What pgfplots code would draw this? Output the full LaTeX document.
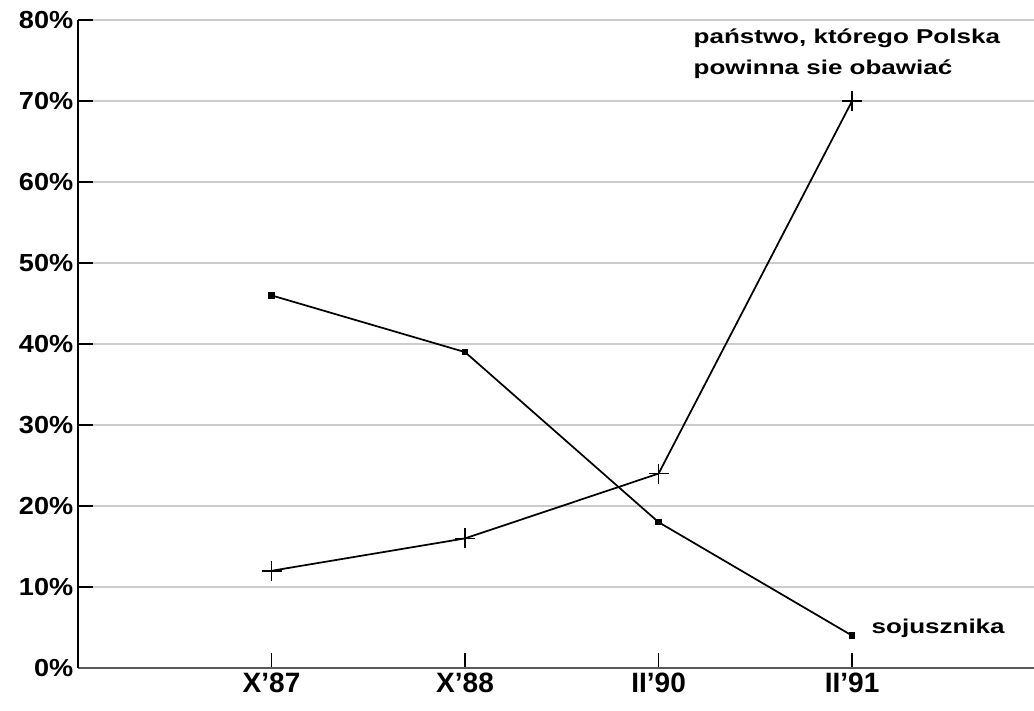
\documentclass[border=0pt]{standalone}
\usepackage{pgfplots}
\pgfplotsset{compat=1.18}
\usepackage{fontspec}
\setmainfont{Liberation Sans}
\newfontfamily\labfont{Liberation Sans}[FakeStretch=1.3]
\newfontfamily\tickfont{Liberation Sans}[FakeStretch=1.1]
\begin{document}
\begin{tikzpicture}
\begin{axis}[
  name=ax,
  width=717pt, height=486pt, scale only axis,
  xmin=-1, xmax=3.94, ymin=0, ymax=80,
  axis x line*=bottom, axis y line*=left,
  x axis line style={gray!70!black, line width=1pt},
  y axis line style={black, line width=1pt},
  xtick={0,1,2,3}, xticklabels={X'87,X'88,II'90,II'91},
  ytick={0,10,...,80},
  yticklabel={\pgfmathprintnumber{\tick}\%},
  /pgf/number format/assume math mode=true,
  tick align=inside, major tick length=11pt,
  tick style={black, line width=1pt},
  ymajorgrids, grid style={gray!40, line width=1.3pt},
  yticklabel style={font=\tickfont\bfseries\fontsize{18.5}{20}\selectfont},
  xticklabel style={font=\bfseries\fontsize{21}{24}\selectfont},
  clip=false,
]
\addplot[black, line width=1.3pt, mark=square*, mark size=1.8pt] coordinates {(0,46) (1,39) (2,18) (3,4)};
\addplot[black, line width=1.3pt, mark=+, mark size=7.5pt, mark options={line width=1.2pt}] coordinates {(0,12) (1,16) (2,24) (3,70)};
\node[anchor=west, font=\labfont\bfseries\fontsize{15}{23}\selectfont, align=left, inner sep=0pt] at (axis cs:2.18,75.8) {państwo, którego Polska\\powinna sie obawiać};
\node[anchor=west, font=\labfont\bfseries\fontsize{15}{18}\selectfont, inner sep=0pt] at (axis cs:3.10,4.9) {sojusznika};
\end{axis}
\pgfresetboundingbox
\path[use as bounding box] ([xshift=-58.5pt,yshift=-31.5pt]ax.south west) rectangle ([yshift=15pt]ax.north east);
\end{tikzpicture}
\end{document}
